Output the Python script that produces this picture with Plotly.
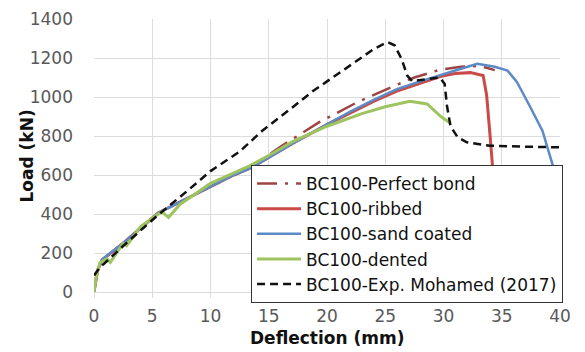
import plotly.graph_objects as go

# Exp. Mohamed (2017) - black dashed
exp_x = [0, 0.5, 2.5, 5.4, 8.2, 10.0, 12.5, 14.5, 17.0, 18.8, 20.0, 22.8, 24.0, 25.2, 25.8, 26.4, 26.9, 27.3, 28.2, 29.7, 30.1, 30.3, 30.6, 31.2, 32.0, 34.0, 37.0, 40.0]
exp_y = [85, 125, 236, 390, 528, 620, 720, 830, 945, 1031, 1080, 1195, 1245, 1282, 1265, 1195, 1108, 1082, 1090, 1100, 1067, 954, 851, 795, 768, 750, 745, 742]

# Perfect bond - dash-dot dark red
pb_x = [0, 0.3, 0.7, 2.5, 5.5, 8.0, 10.0, 12.0, 13.5, 16.0, 19.3, 22.5, 25.5, 27.5, 29.7, 31.5, 33.1, 34.4]
pb_y = [0, 110, 165, 250, 405, 480, 540, 600, 640, 745, 870, 970, 1050, 1100, 1140, 1155, 1160, 1138]

# Ribbed - solid red
rb_x = [0, 0.3, 0.7, 2.5, 5.5, 8.0, 10.0, 12.0, 13.5, 15.0, 17.0, 20.0, 22.0, 24.0, 26.0, 28.0, 29.9, 31.0, 32.3, 33.4, 33.7, 34.0, 34.2, 34.4, 34.5]
rb_y = [0, 110, 165, 250, 405, 480, 540, 600, 638, 690, 760, 858, 920, 978, 1030, 1070, 1108, 1120, 1125, 1110, 1010, 800, 650, 450, 300]

# Sand coated - blue
sc_x = [0, 0.3, 0.7, 2.5, 5.5, 8.0, 10.0, 12.0, 13.5, 15.0, 17.0, 20.0, 22.0, 24.0, 26.0, 28.0, 30.0, 31.5, 32.9, 34.4, 35.5, 36.3, 37.4, 38.5, 39.4, 40.0]
sc_y = [0, 110, 168, 250, 405, 480, 540, 600, 637, 690, 760, 860, 925, 985, 1040, 1080, 1115, 1145, 1170, 1155, 1135, 1077, 954, 826, 646, 520]

# Dented - green
dn_x = [0, 0.2, 0.5, 1.1, 1.4, 2.5, 2.8, 4.0, 5.8, 6.4, 7.4, 10.0, 13.4, 15.0, 17.0, 20.0, 23.0, 25.0, 27.1, 28.6, 29.7, 30.6]
dn_y = [0, 80, 150, 170, 152, 250, 238, 335, 412, 383, 450, 557, 648, 700, 770, 850, 915, 950, 978, 964, 903, 865]

x_ticks = [0, 5, 10, 15, 20, 25, 30, 35, 40]
y_ticks = [0, 200, 400, 600, 800, 1000, 1200, 1400]

FONT = "DejaVu Sans, sans-serif"

fig = go.Figure()
fig.add_trace(go.Scatter(x=pb_x, y=pb_y, mode="lines", name="BC100-Perfect bond",
                         line=dict(color="#9E4543", width=2.5, dash="20px,8px,3px,8px")))
fig.add_trace(go.Scatter(x=rb_x, y=rb_y, mode="lines", name="BC100-ribbed",
                         line=dict(color="#C94A47", width=3)))
fig.add_trace(go.Scatter(x=sc_x, y=sc_y, mode="lines", name="BC100-sand coated",
                         line=dict(color="#5B8AC6", width=2.5)))
fig.add_trace(go.Scatter(x=dn_x, y=dn_y, mode="lines", name="BC100-dented",
                         line=dict(color="#9DC45F", width=3)))
fig.add_trace(go.Scatter(x=exp_x, y=exp_y, mode="lines", name="BC100-Exp. Mohamed (2017)",
                         line=dict(color="#111111", width=2.5, dash="8px,5px")))

# page body has an 8px margin, so the figure is sized to fit inside the window
fig.update_layout(
    width=577, height=344,
    margin=dict(l=86, r=25, t=11, b=60),
    paper_bgcolor="white", plot_bgcolor="white",
    font=dict(family=FONT, size=17, color="#595959"),
    showlegend=True,
    legend=dict(x=0.337, y=0.465, xanchor="left", yanchor="top",
                bgcolor="white", bordercolor="#333333", borderwidth=1,
                font=dict(family=FONT, size=17, color="#111111"),
                tracegroupgap=0, itemwidth=44),
    xaxis=dict(range=[0, 40], tickvals=x_ticks, showgrid=True, gridcolor="#DCDCDC",
               zeroline=False, showline=True, linecolor="#DCDCDC", ticks="outside",
               ticklen=5, tickcolor="#DCDCDC", tickfont=dict(family=FONT, size=17, color="#595959"),
               ticklabelstandoff=4, automargin=False),
    yaxis=dict(range=[0, 1400], tickvals=y_ticks, showgrid=True, gridcolor="#DCDCDC",
               zeroline=False, showline=False, tickfont=dict(family=FONT, size=17, color="#595959"),
               ticklabelstandoff=20, automargin=False),
    annotations=[
        dict(text="<b>Deflection (mm)</b>", xref="paper", yref="paper", x=0.5, y=-0.168,
             xanchor="center", yanchor="middle", showarrow=False, borderpad=0,
             font=dict(family=FONT, size=17, color="#111111")),
        dict(text="<b>Load (kN)</b>", xref="paper", yref="paper", x=-0.1438, y=0.5,
             xanchor="center", yanchor="middle", showarrow=False, textangle=-90, borderpad=0,
             font=dict(family=FONT, size=17, color="#111111")),
    ],
)

fig.write_html("out.html")
